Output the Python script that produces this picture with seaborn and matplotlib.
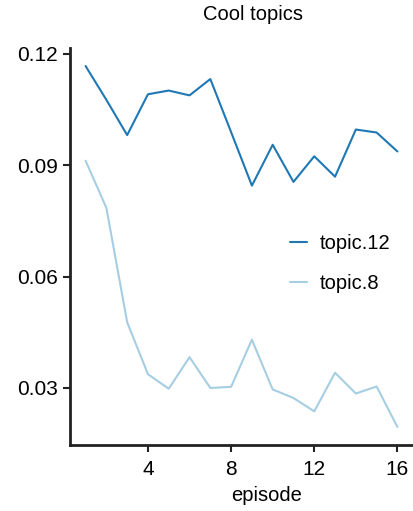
import numpy as np
import pandas as pd
import matplotlib
matplotlib.use("Agg")
import matplotlib.pyplot as plt
import seaborn as sns

episodes = list(range(1, 17))
topic_12 = [0.1167, 0.1076, 0.0981, 0.1091, 0.1101, 0.1088, 0.1132, 0.0989,
            0.0845, 0.0955, 0.0855, 0.0924, 0.0869, 0.0996, 0.0988, 0.0937]
topic_8 = [0.0912, 0.0785, 0.0477, 0.0337, 0.0298, 0.0383, 0.0300, 0.0303,
           0.0430, 0.0296, 0.0273, 0.0237, 0.0341, 0.0285, 0.0304, 0.0195]
series_names = ["topic.12", "topic.8"]
colors = ["#1f78b4", "#a6cee3"]
x_ticks = [4, 8, 12, 16]
y_ticks = [0.03, 0.06, 0.09, 0.12]

sns.set_theme(style="ticks")
plt.rcParams["font.family"] = ["Liberation Sans", "DejaVu Sans"]
plt.rcParams["text.color"] = "black"
plt.rcParams["axes.labelcolor"] = "black"
plt.rcParams["xtick.labelcolor"] = "black"
plt.rcParams["ytick.labelcolor"] = "black"

df = pd.DataFrame({
    "episode": episodes * 2,
    "value": topic_12 + topic_8,
    "topic": [series_names[0]] * len(episodes) + [series_names[1]] * len(episodes),
})

fig = plt.figure(figsize=(4.14, 5.11), dpi=100)
ax = fig.add_axes([70 / 414, 66 / 511, 343 / 414, 397 / 511])
sns.lineplot(data=df, x="episode", y="value", hue="topic",
             palette=dict(zip(series_names, colors)), linewidth=1.5, ax=ax)

ax.set_xticks(x_ticks)
ax.set_yticks(y_ticks)
ax.set_yticklabels([f"{v:.2f}" for v in y_ticks])
ax.tick_params(axis="both", labelsize=15, width=1.5, length=5, color="#222222")
ax.tick_params(axis="x", pad=6)
ax.set_xlabel("episode", fontsize=14.5, labelpad=5, x=0.574)
ax.set_ylabel("")
ax.set_title("Cool topics", fontsize=14.5, x=0.534, pad=20)
sns.despine(ax=ax)
for side in ("left", "bottom"):
    ax.spines[side].set_linewidth(2)
    ax.spines[side].set_color("#222222")

ax.legend(frameon=False, fontsize=14.5, loc="center left",
          bbox_to_anchor=(0.588, 0.457), handlelength=0.85, labelspacing=1.05,
          handletextpad=0.65)

fig.savefig("out.png", dpi=100)
